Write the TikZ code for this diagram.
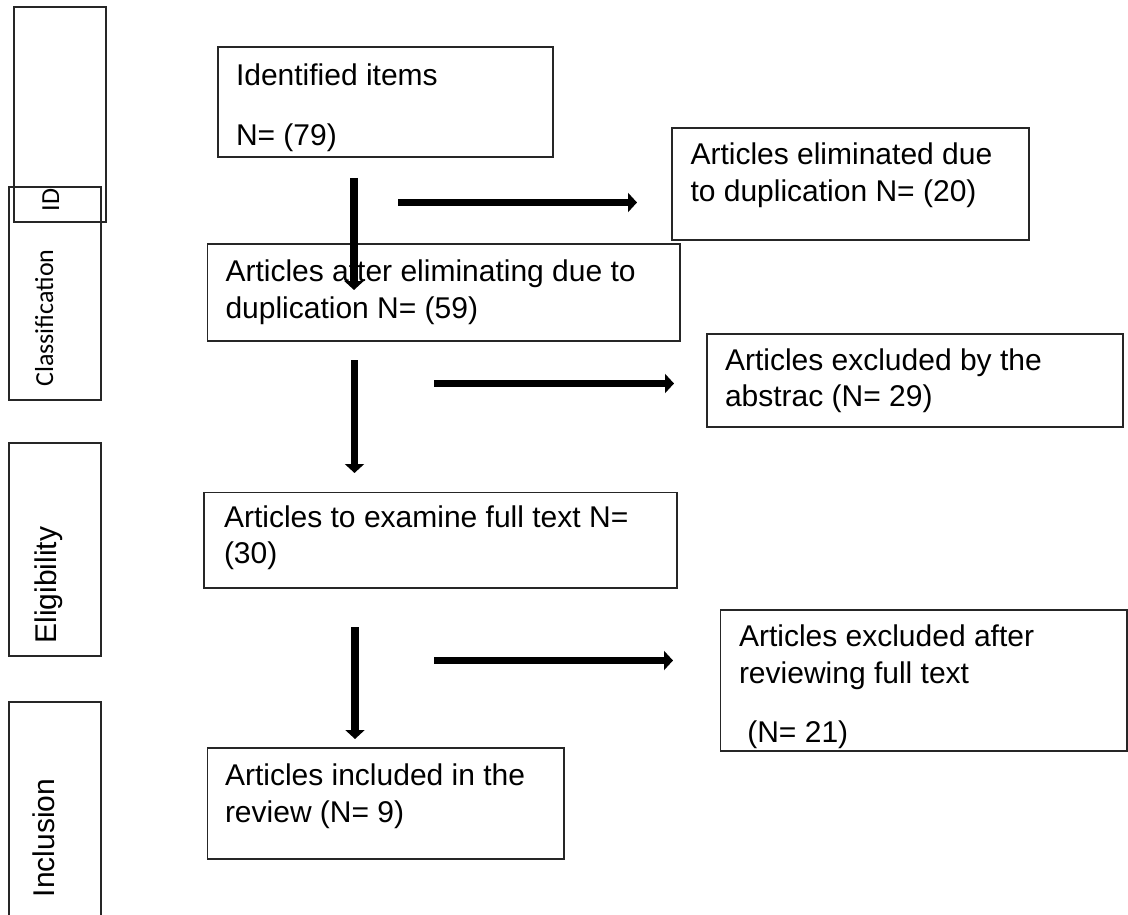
\documentclass[tikz,border=0pt]{standalone}
\usepackage{fontspec}
\setmainfont{Liberation Sans}
\newfontfamily\calfont{Carlito}
\usetikzlibrary{arrows.meta}
\begin{document}
\begin{tikzpicture}[x=1pt,y=-1pt,
  box/.style={draw=black!85,line width=1.4pt,inner sep=0pt,outer sep=0pt,anchor=north west},
  txt/.style={anchor=base west,inner sep=0pt,outer sep=0pt,font=\fontsize{30}{36.5}\selectfont},
  flow/.style={line width=7.5pt,-{Triangle[length=9pt,width=19pt]}},
  stage/.style={rotate=90,anchor=base,inner sep=0pt,font=\fontsize{30}{36}\selectfont},
  stagec/.style={rotate=90,anchor=base,inner sep=0pt,font=\calfont\fontsize{26}{30}\selectfont}]
\useasboundingbox[fill=white] (0,0) rectangle (1128,915);

% stage boxes
\node[box,minimum width=92pt,minimum height=215pt] (sid) at (14,7) {};
\node[box,minimum width=92pt,minimum height=213pt] (scl) at (9,187) {};
\node[box,minimum width=92pt,minimum height=213pt] (sel) at (9,443) {};
\node[box,minimum width=92pt,minimum height=218pt] (sin) at (9,702) {};
\node[stagec] (tid) at (59,200) {ID};
\node[stagec] (tcl) at (53,318) {Classification};
\node[stage] (tel) at (56,585) {Eligibility};
\node[stage] (tin) at (54,838) {Inclusion};

% flow boxes
\node[box,minimum width=335pt,minimum height=110pt] (b1) at (218,47) {};
\node[box,minimum width=357pt,minimum height=112pt] (b2) at (672,128) {};
\node[box,minimum width=472.5pt,minimum height=97pt] (b3) at (207.5,244) {};
\node[box,minimum width=416pt,minimum height=93pt] (b4) at (707,334) {};
\node[box,minimum width=473pt,minimum height=95.5pt] (b5) at (204,492.5) {};
\node[box,minimum width=406.5pt,minimum height=141pt] (b6) at (720.5,610) {};
\node[box,minimum width=356.5pt,minimum height=111pt] (b7) at (207.5,748) {};

\node[txt] (t1) at ([shift={(18,38.5)}]b1.north west)
  {\vtop{\hbox{Identified items}\vskip24pt\hbox{N= (79)}}};
\node[txt] (t2) at ([shift={(18.5,37)}]b2.north west)
  {\vtop{\hbox{Articles eliminated due}\hbox{to duplication N= (20)}}};
\node[txt] (t3) at ([shift={(18,37.7)}]b3.north west)
  {\vtop{\hbox{Articles after eliminating due to}\hbox{duplication N= (59)}}};
\node[txt] (t4) at ([shift={(18,36)}]b4.north west)
  {\vtop{\hbox{Articles excluded by the}\hbox{abstrac (N= 29)}}};
\node[txt] (t5) at ([shift={(20,34.5)}]b5.north west)
  {\vtop{\hbox{Articles to examine full text N=}\hbox{(30)}}};
\node[txt] (t6) at ([shift={(18.5,36.7)}]b6.north west)
  {\vtop{\hbox{Articles excluded after}\hbox{reviewing full text}\vskip22.5pt\hbox{\ (N= 21)}}};
\node[txt] (t7) at ([shift={(17.5,37.7)}]b7.north west)
  {\vtop{\hbox{Articles included in the}\hbox{review (N= 9)}}};

% arrows
\coordinate (a1s) at (354,178);   \coordinate (a1e) at (354,290);
\coordinate (h1s) at (398,202.5); \coordinate (h1e) at (637,202.5);
\coordinate (a2s) at (354.5,360); \coordinate (a2e) at (354.5,473);
\coordinate (h2s) at (434,383.5); \coordinate (h2e) at (674,383.5);
\coordinate (a3s) at (355,627);   \coordinate (a3e) at (355,739);
\coordinate (h3s) at (434,660.5); \coordinate (h3e) at (673,660.5);
\draw[flow] (a1s) -- (a1e);
\draw[flow] (h1s) -- (h1e);
\draw[flow] (a2s) -- (a2e);
\draw[flow] (h2s) -- (h2e);
\draw[flow] (a3s) -- (a3e);
\draw[flow] (h3s) -- (h3e);
\end{tikzpicture}
\end{document}
